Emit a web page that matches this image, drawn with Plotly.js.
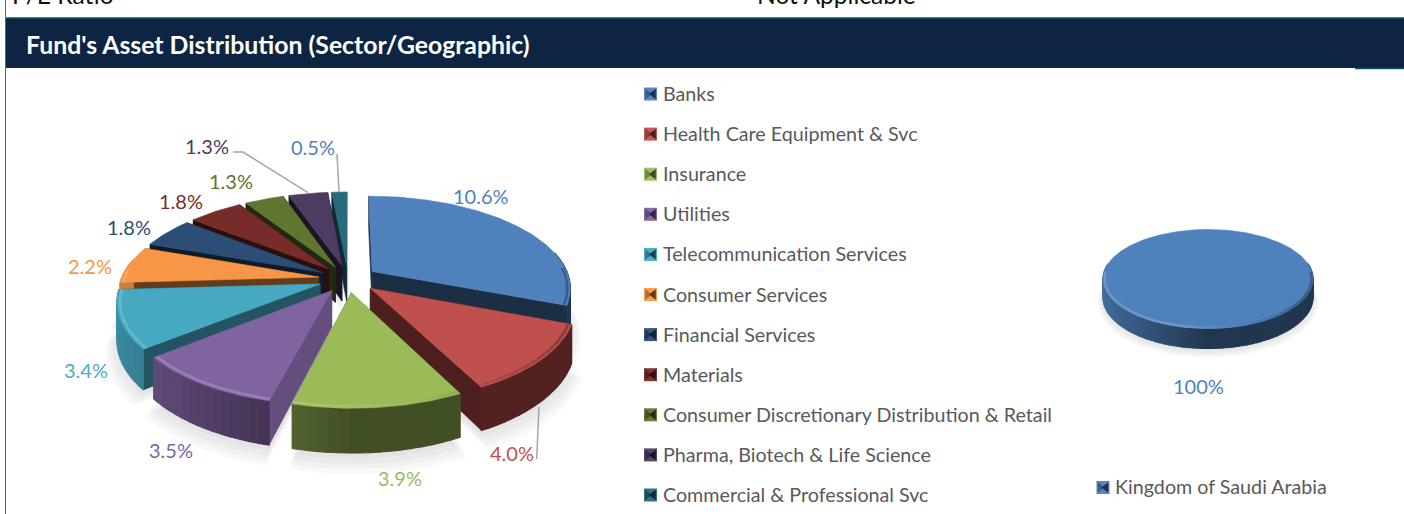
<!DOCTYPE html>
<html><head><meta charset="utf-8">
<script src="https://cdn.plot.ly/plotly-3.0.1.min.js"></script>
<style>html,body{margin:0;padding:0;background:#fff;overflow:hidden}#c{width:1404px;height:514px}</style>
</head><body><div id="c"></div>
<script>
// ---- data ----
const sectors = ["Banks","Health Care Equipment & Svc","Insurance","Utilities","Telecommunication Services","Consumer Services","Financial Services","Materials","Consumer Discretionary Distribution & Retail","Pharma, Biotech & Life Science","Commercial & Professional Svc"];
const sectorValues = [10.6,4.0,3.9,3.5,3.4,2.2,1.8,1.8,1.3,1.3,0.5];
const sectorColors = ["#4F81BD","#C0504D","#9BBB59","#8064A2","#47A8C2","#F79646","#2C4D75","#772C2A","#5F7530","#4D3B62","#276A7C"];
const labelColors = ["#4F81BD","#C0504D","#9BBB59","#8064A2","#4BACC6","#F79646","#2C4D75","#772C2A","#5F7530","#4D3B62","#4F81BD"];
const labelX = [481,512,400,171,86,90,129,181,231,207,313];
const labelY = [196,453,478,450,370,266,227,201,181,146,147];
const edgeShade = [0.36,0.40,0.5,0.78,0.5,0.4,0.35,0.35,0.35,0.35,0.4];
const countries = ["Kingdom of Saudi Arabia"];
const countryValues = [100];
const countryColors = ["#4F81BD"];

const leaderLines = [
  {x:[233,243,308],y:[152,152,192.7]},
  {x:[337,339],y:[154,192]},
  {x:[536.7,539],y:[459,407]}
];

const mainPie = {cx:348,cy:279,R:197.5,B:90.5,k:0.17,D:36,E:0.15,startDeg:0};
const sidePie = {cx:1208,cy:274,R:104.5,B:49,k:0.10,D:18,E:0,startDeg:0};

const FONT = "Lato, 'Open Sans', sans-serif";
const traces = [];

function rgb(h){return [1,3,5].map(i=>parseInt(h.substr(i,2),16));}
function shade(h,f){const c=rgb(h);return 'rgb('+c.map(v=>Math.round(f<=1?v*f:v+(255-v)*(f-1))).join(',')+')';}
function rad(d){return d*Math.PI/180;}
function proj(p,X,Y,z){const s=1/(1-p.k*Y);return [p.cx+p.R*X*s,p.cy+p.B*Y*s+p.D*z*s];}
function wallLight(t){
  const a=rad(t);return 0.42+0.42*Math.max(0,-Math.sin(a));
}
function poly(pts,color,name,w){
  traces.push({type:'scatter',mode:'lines',x:pts.map(p=>p[0]).concat(pts[0][0]),y:pts.map(p=>p[1]).concat(pts[0][1]),
    fill:'toself',fillcolor:color,line:{color:color,width:w===undefined?0.6:w},hoverinfo:'skip',showlegend:false,name:name||''});
}
function line(pts,color,w){
  traces.push({type:'scatter',mode:'lines',x:pts.map(p=>p[0]),y:pts.map(p=>p[1]),line:{color:color,width:w},hoverinfo:'skip',showlegend:false});
}
function sweep(a0,a1,st){const r=[];for(let t=a0;t<a1-0.01;t+=st)r.push(t);r.push(a1);return r;}
function drawPie(p,names,values,colors,edge){
  const total=values.reduce((a,b)=>a+b,0);
  let acc=p.startDeg;
  const sl=values.map((v,i)=>{const a0=acc,a1=acc+v/total*360;acc=a1;const m=(a0+a1)/2;
    return {i,a0,a1,m,ox:p.E*Math.sin(rad(m)),oy:-p.E*Math.cos(rad(m))};});
  [[1.05,0.30],[1.035,0.24],[1.02,0.18],[1.0,0.12]].forEach(([g,z])=>{
    sl.forEach(s=>{
      const pts=[proj(p,s.ox,s.oy,1+z)];
      sweep(s.a0,s.a1,2).forEach(t=>pts.push(proj(p,s.ox+g*Math.sin(rad(t)),s.oy-g*Math.cos(rad(t)),1+z)));
      traces.push({type:'scatter',mode:'lines',x:pts.map(q=>q[0]),y:pts.map(q=>q[1]),fill:'toself',fillcolor:'rgba(120,120,120,0.05)',line:{width:0},hoverinfo:'skip',showlegend:false});
    });
  });
  sl.slice().sort((a,b)=>(-Math.cos(rad(a.m)))-(-Math.cos(rad(b.m)))).forEach(s=>{
    const col=colors[s.i],nm=names[s.i];
    const rim=(t,z,g)=>proj(p,s.ox+(g||1)*Math.sin(rad(t)),s.oy-(g||1)*Math.cos(rad(t)),z);
    const apT=proj(p,s.ox,s.oy,0),apB=proj(p,s.ox,s.oy,1);
    const span=s.a1-s.a0<359;
    if(span){
      [s.a0,s.a1].forEach(t=>poly([apT,rim(t,0),rim(t,1),apB],shade(col,edge[s.i]),nm));
    }
    const ts=sweep(s.a0,s.a1,2.5);
    for(let j=0;j<ts.length-1;j++){
      const t=ts[j],t1=ts[j+1],m=(t+t1)/2;
      if(Math.cos(rad(m))<0.2){
        poly([rim(t,0),rim(t1,0),rim(t1,1),rim(t,1)],shade(col,wallLight(m)),nm,1.2);
      }
    }
    const tp=sweep(s.a0,s.a1,1).map(t=>rim(t,0));
    poly((span?[apT]:[]).concat(tp),col,nm);
    const topTrace=traces[traces.length-1];
    topTrace.hoverinfo='text';topTrace.hoveron='fills';topTrace.text=nm+': '+values[s.i]+'%';
    for(let j=0;j<ts.length-1;j++){
      const t=ts[j],t1=ts[j+1],m=(t+t1)/2;
      if(Math.cos(rad(m))<0.05){
        const u=Math.min(1,Math.max(0,(m-120)/75));
        const f=0.72+0.46*u;
        line([rim(t,0,0.985),rim(t1,0,0.985)],shade(col,f),2.6);
      }
    }
  });
}
drawPie(mainPie,sectors,sectorValues,sectorColors,edgeShade);
drawPie(sidePie,countries,countryValues,countryColors,[0.4]);

leaderLines.forEach(l=>traces.push({type:'scatter',mode:'lines',x:l.x,y:l.y,line:{color:'#a6a6a6',width:1.5},hoverinfo:'skip',showlegend:false}));

function legendMark(x,y,col){
  traces.push({type:'scatter',mode:'markers',x:[x],y:[y],marker:{symbol:'square',size:13,color:shade(col,1.05)},hoverinfo:'skip',showlegend:false});
  traces.push({type:'scatter',mode:'markers',x:[x-3],y:[y],marker:{symbol:'triangle-right',size:9,color:shade(col,0.72)},hoverinfo:'skip',showlegend:false});
  traces.push({type:'scatter',mode:'markers',x:[x+3],y:[y],marker:{symbol:'triangle-left',size:9,color:shade(col,0.38)},hoverinfo:'skip',showlegend:false});
}
const annotations=[];
function txt(x,y,t,size,color,anchor,extra){
  annotations.push(Object.assign({x,y,xref:'x',yref:'y',text:t,showarrow:false,xanchor:anchor||'center',yanchor:'middle',borderpad:0,
    font:{family:FONT,size,color}},extra||{}));
}
sectors.forEach((n,i)=>{const y=93.5+i*40.1;legendMark(650.5,y+0.5,sectorColors[i]);txt(662,y,n.replace('&','&amp;'),19.7,'#595959','left');});
countries.forEach((n,i)=>{legendMark(1103,487.5,countryColors[i]);txt(1114,486.5,n,19.7,'#595959','left');});
sectorValues.forEach((v,i)=>txt(labelX[i],labelY[i],v.toFixed(1)+'%',20,labelColors[i]));
countryValues.forEach(v=>txt(1198,386,v+'%',20,'#4F81BD'));
txt(25,44,"<b>Fund's Asset Distribution (Sector/Geographic)</b>",24.8,'#ffffff','left');
txt(11,10,"P/E Ratio",24.6,'#111111','left',{yanchor:'bottom'});
txt(756,10,"Not Applicable",24.6,'#111111','left',{yanchor:'bottom'});

const shapes=[
  {type:'rect',xref:'x',yref:'y',x0:6,x1:1404,y0:18,y1:68,fillcolor:'#0E2443',line:{width:0},layer:'below'},
  {type:'line',xref:'x',yref:'y',x0:6,x1:1404,y0:18,y1:18,line:{color:'#0B5560',width:1.5},layer:'below'},
  {type:'line',xref:'x',yref:'y',x0:5.5,x1:5.5,y0:0,y1:514,line:{color:'#2F7F80',width:1},layer:'below'},
  {type:'line',xref:'x',yref:'y',x0:1355,x1:1404,y0:68.5,y1:68.5,line:{color:'#0B5560',width:1.5},layer:'below'}
];

Plotly.newPlot('c',traces,{
  width:1404,height:514,margin:{l:0,r:0,t:0,b:0},paper_bgcolor:'#fff',plot_bgcolor:'#fff',showlegend:false,
  xaxis:{range:[0,1404],visible:false,fixedrange:true},
  yaxis:{range:[514,0],visible:false,fixedrange:true},
  annotations,shapes,hovermode:'closest'
},{displayModeBar:false,responsive:false});
</script></body></html>
